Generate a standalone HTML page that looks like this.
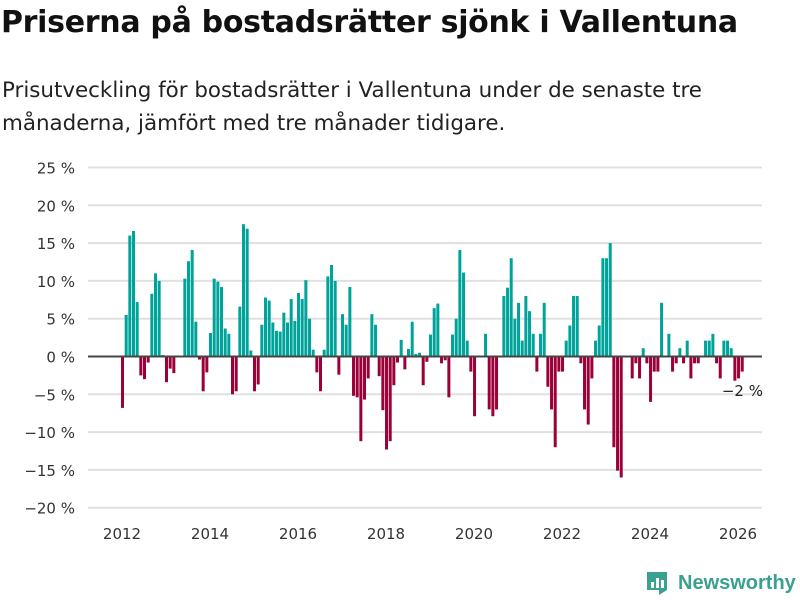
<!DOCTYPE html>
<html><head><meta charset="utf-8"><style>
body{margin:0;background:#fff;font-family:"DejaVu Sans","Liberation Sans",sans-serif;}
#wrap{position:relative;width:800px;height:600px;overflow:hidden;}
h1{position:absolute;left:1px;top:5px;margin:0;font-size:30px;font-weight:bold;color:#111;letter-spacing:-0.3px;white-space:nowrap;}
p{position:absolute;left:2px;top:74px;margin:0;font-size:21.4px;line-height:33px;color:#222;width:725px;}
</style></head><body>
<div id="wrap">
<h1>Priserna på bostadsrätter sjönk i Vallentuna</h1>
<p>Prisutveckling för bostadsrätter i Vallentuna under de senaste tre månaderna, jämfört med tre månader tidigare.</p>
<svg id="chart" width="800" height="600" style="position:absolute;left:0;top:0"></svg>
<div style="position:absolute;left:645px;top:570px;display:flex;align-items:center;">
<svg width="24" height="26"><path d="M2 2h20v18l-8 5v-5H2z" fill="#3aa090"/><rect x="6" y="12" width="3" height="6" fill="#fff"/><rect x="11" y="8" width="3" height="10" fill="#fff"/><rect x="16" y="10" width="3" height="8" fill="#fff"/></svg>
<span style="font-family:'Liberation Sans',sans-serif;font-size:20px;font-weight:bold;color:#3aa090;margin-left:9px;">Newsworthy</span></div>
</div>
<script>
const yTicks=[25,20,15,10,5,0,-5,-10,-15,-20];
const years=[2012,2014,2016,2018,2020,2022,2024,2026];
const values=[-6.8,5.5,16,16.6,7.2,-2.5,-3,-0.8,8.3,11,10,0.2,-3.4,-1.6,-2.2,0,0,10.3,12.6,14.1,4.6,-0.4,-4.6,-2.1,3.1,10.3,9.9,9.2,3.7,3.0,-5.0,-4.6,6.6,17.5,16.9,0.8,-4.6,-3.7,4.2,7.8,7.4,4.5,
3.4,3.3,5.8,4.5,7.6,4.7,8.4,7.6,10.1,5.0,0.9,-2.1,-4.6,0.9,10.6,12.1,10.0,-2.4,5.6,4.2,9.2,-5.2,-5.4,-11.2,-5.7,-2.9,5.6,4.2,-2.6,-7.1,-12.3,-11.2,-3.8,-0.8,2.2,-1.7,1.0,4.6,0.35,0.5,-3.8,-0.7,
2.9,6.4,7.0,-0.9,-0.5,-5.4,2.9,5.0,14.1,11.1,2.1,-2.0,-7.9,0,0,3.0,-7.0,-7.9,-7.0,0,8.0,9.1,13.0,5.0,7.1,2.1,8.0,6.0,3.0,-2.0,3.0,7.1,-4.0,-7.0,-12.0,-2.0,-2.0,2.1,4.1,8.0,8.0,-0.9,
-7.0,-9.0,-2.9,2.1,4.1,13.0,13.0,15.0,-12.0,-15.1,-16.0,0,0,-2.9,-0.9,-2.9,1.1,-0.9,-6.0,-2.0,-2.0,7.1,0,3.0,-2.0,-0.9,1.1,-0.9,2.1,-2.9,-0.9,-0.9,0,2.1,2.1,3.0,-0.9,-2.9,2.1,2.1,1.1,-3.2,-2.9,-2.0];
const lastLabel="−2 %";
const svg=document.getElementById('chart');const NS='http://www.w3.org/2000/svg';
const y=v=>356.5-v*7.56;
const xYear=yr=>122+(yr-2012)*44;
const xBar=i=>121+i*3.667;
const FONT='DejaVu Sans, Liberation Sans, sans-serif';
function mk(t,a,p){const e=document.createElementNS(NS,t);for(const k in a)e.setAttribute(k,a[k]);(p||svg).appendChild(e);return e;}
yTicks.forEach(t=>{
 if(t!==0){const l=mk('line',{x1:88,x2:762,y1:y(t),y2:y(t),stroke:'#e0e0e0','stroke-width':2});
 
 }
 const tx=mk('text',{x:75,y:y(t)+6,'text-anchor':'end','font-size':15,fill:'#333','font-family':FONT});
 tx.textContent=(t<0?'−'+(-t):t)+' %';
 
 
});
years.forEach(yr=>{const tx=mk('text',{x:xYear(yr),y:539,'text-anchor':'middle','font-size':15,fill:'#333','font-family':FONT});
 tx.textContent=yr;
 
 });
values.forEach((v,i)=>{if(v===0)return;
 const r=mk('rect',{x:xBar(i),width:3,y:v>0?y(v):y(0),height:Math.abs(y(v)-y(0)),fill:v>0?'#00a39a':'#9b0039'});
 
 });
const z=mk('line',{x1:88,x2:762,y1:y(0),y2:y(0),stroke:'#444','stroke-width':2});


const lb=mk('text',{x:763,y:396,'text-anchor':'end','font-size':15,fill:'#222','font-family':FONT});
lb.textContent=lastLabel;


</script>
</body></html>
